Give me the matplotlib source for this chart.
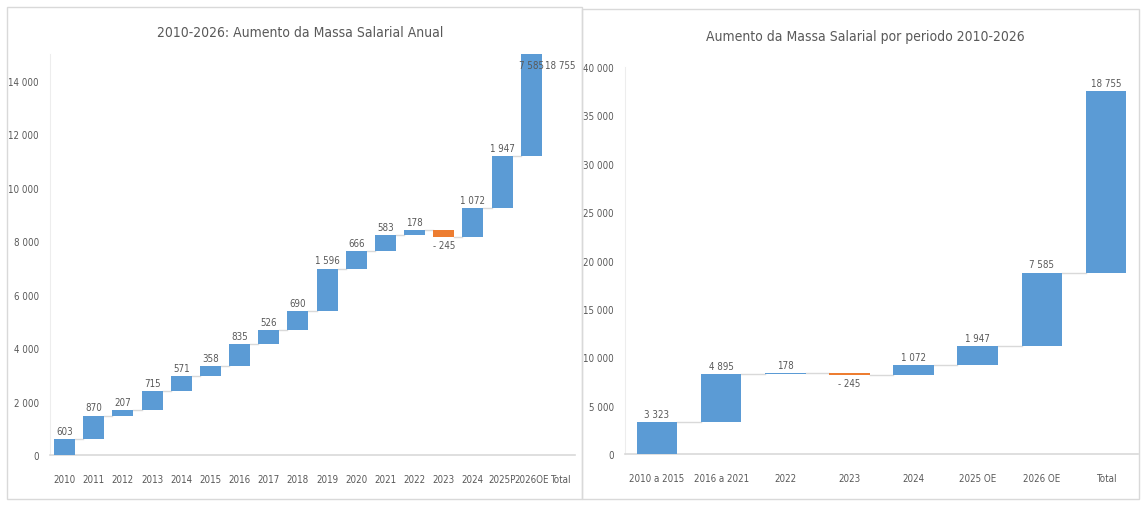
import numpy as np
import matplotlib.pyplot as plt
from matplotlib.patches import Rectangle

plt.rcParams['font.family'] = ['DejaVu Sans']
plt.rcParams['font.stretch'] = 'condensed'

# data
anos = ['2010', '2011', '2012', '2013', '2014', '2015', '2016', '2017', '2018',
        '2019', '2020', '2021', '2022', '2023', '2024', '2025P', '2026OE', 'Total']
aum_anual = [603, 870, 207, 715, 571, 358, 835, 526, 690, 1596, 666, 583, 178,
             -245, 1072, 1947, 7585]
periodos = ['2010 a 2015', '2016 a 2021', '2022', '2023', '2024', '2025 OE',
            '2026 OE', 'Total']
aum_periodo = [3323, 4895, 178, -245, 1072, 1947, 7585]
total = 18755

BLUE = '#5B9BD5'
ORANGE = '#ED7D31'
GRID = '#D9D9D9'
TXT = '#595959'


def fmt(v):
    s = f'{abs(v):,}'.replace(',', ' ')
    return ('- ' + s) if v < 0 else s


def waterfall(ax, labels, vals, tot, width, ymax, step, fs):
    n = len(vals)
    x = np.arange(len(labels))
    cum = np.concatenate([[0], np.cumsum(vals)])
    bottoms = np.minimum(cum[:-1], cum[1:])
    heights = np.abs(vals)
    colors = [BLUE if v >= 0 else ORANGE for v in vals]
    ax.bar(x[:n], heights, bottom=bottoms, width=width, color=colors, zorder=3)
    # total bar (Excel puts it floating on top of the total)
    ax.bar(x[n], tot, bottom=tot, width=width, color=BLUE, zorder=3)
    # connectors
    for i in range(n):
        ax.plot([x[i] + width / 2, x[i + 1] - width / 2], [cum[i + 1]] * 2,
                color=GRID, lw=1, zorder=2)
    # labels
    for i, v in enumerate(vals):
        top = cum[i + 1] if v >= 0 else cum[i]
        if v >= 0 and top > ymax:
            ax.text(x[i], ymax * 0.985, fmt(v), ha='center', va='top',
                    fontsize=fs, color=TXT, zorder=4)
        elif v >= 0:
            ax.text(x[i], top + ymax * 0.008, fmt(v), ha='center', va='bottom',
                    fontsize=fs, color=TXT)
        else:
            ax.text(x[i], cum[i + 1] - ymax * 0.008, fmt(v), ha='center',
                    va='top', fontsize=fs, color=TXT)
    if 2 * tot < ymax:
        ax.text(x[n], 2 * tot + ymax * 0.008, fmt(tot), ha='center',
                va='bottom', fontsize=fs, color=TXT)
    else:
        ax.text(x[n], ymax * 0.985, fmt(tot), ha='center', va='top',
                fontsize=fs, color=TXT)

    ax.set_xlim(-0.5, len(labels) - 0.5)
    ax.set_ylim(0, ymax)
    ax.set_xticks(x)
    ax.set_xticklabels(labels)
    ticks = np.arange(0, ymax + 1, step)
    ax.set_yticks(ticks)
    ax.set_yticklabels([fmt(int(t)) for t in ticks])
    ax.tick_params(axis='both', length=0, labelsize=fs, colors=TXT)
    ax.tick_params(axis='x', pad=14)
    ax.tick_params(axis='y', pad=8)
    for s in ['top', 'right']:
        ax.spines[s].set_visible(False)
    ax.spines['left'].set_color('#EDEDED')
    ax.spines['bottom'].set_color(GRID)
    ax.spines['bottom'].set_linewidth(1.2)


fig = plt.figure(figsize=(11.42, 5.06), dpi=100)

# panel frames
fig.patches.append(Rectangle((7 / 1142, 6 / 506), 575 / 1142, 492 / 506,
                             transform=fig.transFigure, fill=False,
                             ec='#D9D9D9', lw=1))
fig.patches.append(Rectangle((582 / 1142, 6 / 506), 557 / 1142, 490 / 506,
                             transform=fig.transFigure, fill=False,
                             ec='#D9D9D9', lw=1))

ax1 = fig.add_axes([50 / 1142, 1 - 456 / 506, 525 / 1142, 401 / 506])
waterfall(ax1, anos, aum_anual, total, 0.72, 15000, 2000, 7)
ax1.set_yticks(np.arange(0, 14001, 2000))
ax1.set_yticklabels([fmt(int(t)) for t in np.arange(0, 14001, 2000)])
fig.text(300 / 1142, 1 - 33 / 506, '2010-2026: Aumento da Massa Salarial Anual',
         ha='center', va='center', fontsize=10, color=TXT)

ax2 = fig.add_axes([625 / 1142, 1 - 455 / 506, 513 / 1142, 387 / 506])
waterfall(ax2, periodos, aum_periodo, total, 0.63, 40000, 5000, 7)
fig.text(865 / 1142, 1 - 37 / 506, 'Aumento da Massa Salarial por periodo 2010-2026',
         ha='center', va='center', fontsize=10, color=TXT)

fig.savefig('out.png', dpi=100)
